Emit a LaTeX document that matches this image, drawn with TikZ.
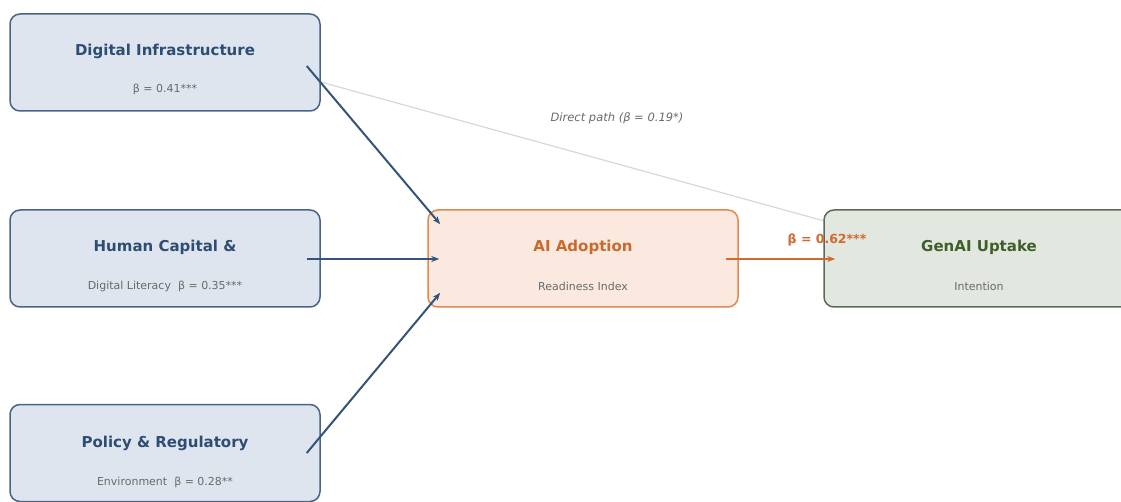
\documentclass[tikz,border=0pt]{standalone}
\usepackage{fontspec}
\setmainfont{DejaVu Sans}
\usetikzlibrary{arrows.meta,calc,backgrounds}
\definecolor{bfill}{HTML}{DFE5EE}
\definecolor{bdraw}{HTML}{4A6488}
\definecolor{btext}{HTML}{2E4D74}
\definecolor{barrow}{HTML}{34557A}
\definecolor{ofill}{HTML}{FBE8DF}
\definecolor{odraw}{HTML}{E08A4F}
\definecolor{otext}{HTML}{C96A2D}
\definecolor{oarrow}{HTML}{D2692E}
\definecolor{gfill}{HTML}{E2E7DF}
\definecolor{gdraw}{HTML}{5B6B58}
\definecolor{gtext}{HTML}{3E5F2B}
\definecolor{subtext}{HTML}{6A6A6A}
\definecolor{direct}{HTML}{D5D9DE}
\tikzset{
  boxbase/.style={rounded corners=10pt, line width=1.5pt, minimum width=310pt, minimum height=97pt, inner sep=0pt},
  bluebox/.style={boxbase, draw=bdraw, fill=bfill},
  orangebox/.style={boxbase, draw=odraw, fill=ofill},
  greenbox/.style={boxbase, draw=gdraw, fill=gfill},
  ttl/.style={font=\bfseries\fontsize{15}{17}\selectfont, inner sep=0pt},
  sub/.style={font=\fontsize{11}{13}\selectfont, text=subtext, inner sep=0pt},
  barr/.style={draw=barrow, line width=2pt, -{Stealth[length=8pt,width=6pt]}},
  oarr/.style={draw=oarrow, line width=2pt, -{Stealth[length=8pt,width=6pt]}},
}
\begin{document}
\begin{tikzpicture}[x=1pt,y=-1pt]
\useasboundingbox (0,0) rectangle (1121,502);
\clip (0,0) rectangle (1121,502);
% boxes
\node[bluebox] (di) at (165,62.5) {};
\node[bluebox] (hc) at (165,258.5) {};
\node[bluebox] (pr) at (165,453) {};
\node[orangebox] (ai) at (583,258.5) {};
\node[greenbox] (gen) at (979,258.5) {};
% texts
\node[ttl, text=btext] (dit) at ($(di.center)+(0,-11)$) {Digital Infrastructure};
\node[sub] (dis) at ($(di.center)+(0,27)$) {β = 0.41***};
\node[ttl, text=btext] (hct) at ($(hc.center)+(0,-11.5)$) {Human Capital \&};
\node[sub] (hcs) at ($(hc.center)+(0,28)$) {Digital Literacy\ \ β = 0.35***};
\node[ttl, text=btext] (prt) at ($(pr.center)+(0,-10)$) {Policy \& Regulatory};
\node[sub] (prs) at ($(pr.center)+(0,29.5)$) {Environment\ \ β = 0.28**};
\node[ttl, text=otext] (ait) at ($(ai.center)+(0,-11.5)$) {AI Adoption};
\node[sub] (ais) at ($(ai.center)+(0,28)$) {Readiness Index};
\node[ttl, text=gtext] (gent) at ($(gen.center)+(0,-11.5)$) {GenAI Uptake};
\node[sub] (gens) at ($(gen.center)+(0,28)$) {Intention};
% direct path
\begin{scope}[on background layer]
\fill[white] (0,0) rectangle (1121,502);
\draw[direct, line width=1.2pt] ($(di.east)+(0,19.5)$) -- ($(gen.north west)+(2,12)$);
\end{scope}
\node[font=\itshape\fontsize{11.5}{13}\selectfont, text=subtext, inner sep=0pt] (dpl) at (617,118.5) {Direct path (β = 0.19*)};
% arrows
\draw[barr] ($(di.east)+(-14,3.5)$) -- ($(ai.north west)+(13,15)$);
\draw[barr] ($(hc.east)+(-14,0.5)$) -- ($(ai.west)+(12,0.5)$);
\draw[barr] ($(pr.east)+(-14,0)$) -- ($(ai.south west)+(13,-15)$);
\draw[oarr] ($(ai.east)+(-13,0.5)$) -- ($(gen.west)+(12,0.5)$);
\node[font=\bfseries\fontsize{12.5}{14}\selectfont, text=oarrow, inner sep=0pt] (bl) at (827,239.5) {β = 0.62***};
\end{tikzpicture}
\end{document}
